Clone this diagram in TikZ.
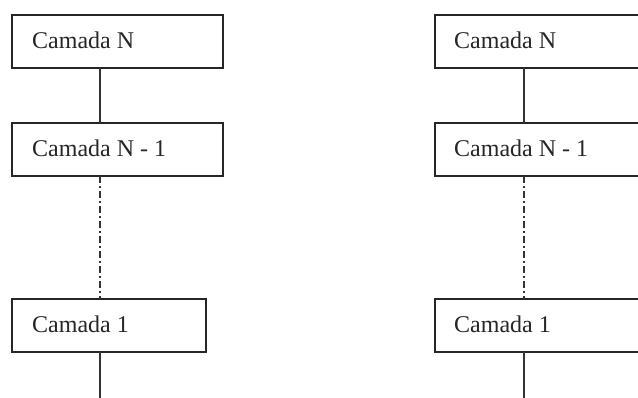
\documentclass[tikz,border=0pt]{standalone}
\usepackage{fontspec}
\setmainfont{Liberation Serif}
\begin{document}
\begin{tikzpicture}[x=1pt,y=-1pt,
  layer/.style={draw=black!85, line width=1.3pt, fill=white},
  label/.style={anchor=base west, font=\fontsize{24}{27}\selectfont, text=black!85, inner sep=0pt},
  link/.style={draw=black!80, line width=1.2pt},
  gap/.style={link, line width=1.4pt, dash pattern=on 7pt off 3pt on 2pt off 3pt}]
  \useasboundingbox (0,0) rectangle (638,398);
  \clip (0,0) rectangle (638,398);

  % left stack
  \draw[layer] (12,15) rectangle (223,68);
  \node[label] (lN) at (32,49) {Camada N};
  \draw[layer] (12,123) rectangle (223,176);
  \node[label] (lN1) at (32,157) {Camada N - 1};
  \draw[layer] (12,299) rectangle (206,352);
  \node[label] (l1) at (32,333) {Camada 1};
  \coordinate (lNb) at (100,68);
  \coordinate (lN1t) at (100,123);
  \coordinate (lN1b) at (100,176);
  \coordinate (l1t) at (100,299);
  \coordinate (l1b) at (100,352);
  \coordinate (lend) at (100,400);
  \draw[link] (lNb) -- (lN1t);
  \draw[gap] (lN1b) -- (l1t);
  \draw[link] (l1b) -- (lend);

  % right stack
  \draw[layer] (435,15) rectangle (660,68);
  \node[label] (rN) at (454,49) {Camada N};
  \draw[layer] (435,123) rectangle (660,176);
  \node[label] (rN1) at (454,157) {Camada N - 1};
  \draw[layer] (435,299) rectangle (660,352);
  \node[label] (r1) at (454,333) {Camada 1};
  \coordinate (rNb) at (524,68);
  \coordinate (rN1t) at (524,123);
  \coordinate (rN1b) at (524,176);
  \coordinate (r1t) at (524,299);
  \coordinate (r1b) at (524,352);
  \coordinate (rend) at (524,400);
  \draw[link] (rNb) -- (rN1t);
  \draw[gap] (rN1b) -- (r1t);
  \draw[link] (r1b) -- (rend);
\end{tikzpicture}
\end{document}
